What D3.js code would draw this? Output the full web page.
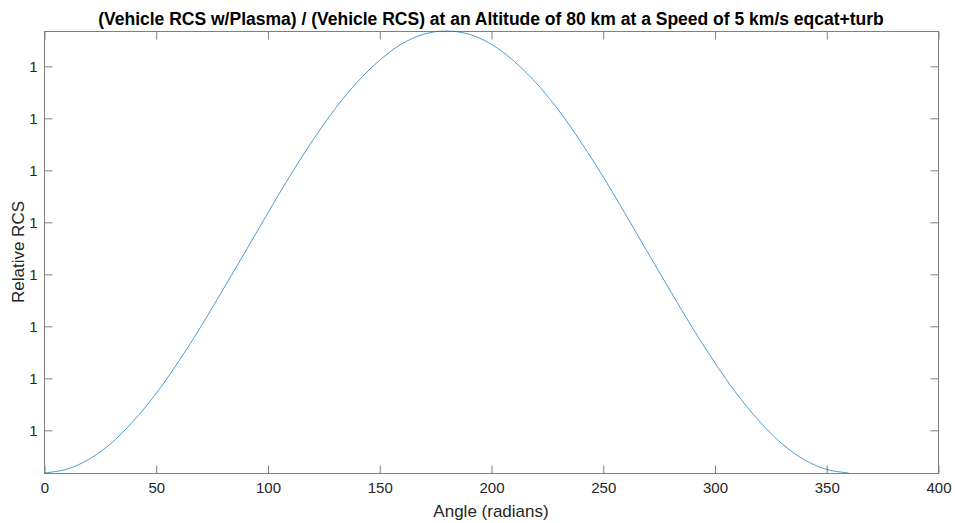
<!DOCTYPE html>
<html>
<head>
<meta charset="utf-8">
<script src="https://cdn.jsdelivr.net/npm/d3@7"></script>
<style>
  html, body { margin: 0; padding: 0; background: #fff; }
  svg { display: block; }
  text { font-family: "Liberation Sans", Arial, Helvetica, sans-serif; }
</style>
</head>
<body>
<svg id="chart" width="955" height="523"></svg>
<script>
// ---- data ----
const titleText = "(Vehicle RCS w/Plasma) / (Vehicle RCS) at an Altitude of 80 km at a Speed of 5 km/s eqcat+turb";
const xLabel = "Angle (radians)";
const yLabel = "Relative RCS";

const angles = [0, 10, 20, 30, 40, 50, 60, 70, 80, 90, 100, 110, 120, 130, 140, 150, 160, 170, 180,
                190, 200, 210, 220, 230, 240, 250, 260, 270, 280, 290, 300, 310, 320, 330, 340, 350, 360];
const relRCS = [0.99999517, 0.99999524, 0.99999543, 0.99999574, 0.99999617, 0.99999669, 0.99999730,
                0.99999797, 0.99999869, 0.99999942, 1.00000016, 1.00000088, 1.00000155, 1.00000216,
                1.00000268, 1.00000310, 1.00000342, 1.00000361, 1.00000367,
                1.00000361, 1.00000342, 1.00000310, 1.00000268, 1.00000216, 1.00000155, 1.00000088,
                1.00000016, 0.99999942, 0.99999869, 0.99999797, 0.99999730, 0.99999669, 0.99999617,
                0.99999574, 0.99999543, 0.99999524, 0.99999517];

const xTicks = [0, 50, 100, 150, 200, 250, 300, 350, 400];
const yTicks = [0.999996, 0.999997, 0.999998, 0.999999, 1.000000, 1.000001, 1.000002, 1.000003];
const yTickLabels = ["1", "1", "1", "1", "1", "1", "1", "1"];

// ---- layout ----
const mLeft = 44, mRight = 938, mTop = 31, mBottom = 473;
const svg = d3.select("#chart");

const x = d3.scaleLinear().domain([0, 400]).range([mLeft, mRight]);
const y = d3.scaleLinear().domain([d3.min(relRCS), d3.max(relRCS)]).range([mBottom, mTop]);

const axisColor = "#808080";
const textColor = "#262626";
const tickLen = 8;

// plot box
svg.append("rect")
  .attr("x", mLeft + 0.5).attr("y", mTop + 0.5)
  .attr("width", mRight - mLeft).attr("height", mBottom - mTop)
  .attr("fill", "#fff").attr("stroke", axisColor).attr("stroke-width", 1);

// axes
const xAxisB = d3.axisBottom(x).tickValues(xTicks).tickSizeInner(-tickLen).tickSizeOuter(0).tickPadding(9);
const xAxisT = d3.axisTop(x).tickValues(xTicks).tickSizeInner(-tickLen).tickSizeOuter(0).tickFormat("");
const yAxisL = d3.axisLeft(y).tickValues(yTicks).tickSizeInner(-tickLen).tickSizeOuter(0).tickPadding(7)
  .tickFormat((d, i) => yTickLabels[i]);
const yAxisR = d3.axisRight(y).tickValues(yTicks).tickSizeInner(-tickLen).tickSizeOuter(0).tickFormat("");

function styleAxis(g) {
  g.select(".domain").remove();
  g.selectAll(".tick line").attr("stroke", axisColor).attr("stroke-width", 1);
  g.selectAll(".tick text").attr("fill", textColor).attr("font-size", 15)
    .attr("font-family", '"Liberation Sans", Arial, Helvetica, sans-serif');
}

svg.append("g").attr("transform", `translate(0.5,${mBottom + 0.5})`).call(xAxisB).call(styleAxis);
svg.append("g").attr("transform", `translate(0.5,${mTop + 0.5})`).call(xAxisT).call(styleAxis);
svg.append("g").attr("transform", `translate(${mLeft + 0.5},0.5)`).call(yAxisL).call(styleAxis);
svg.append("g").attr("transform", `translate(${mRight + 0.5},0.5)`).call(yAxisR).call(styleAxis);

// line
const line = d3.line().x((d, i) => x(angles[i])).y(d => y(d)).curve(d3.curveCatmullRom.alpha(0.5));
svg.append("path")
  .datum(relRCS)
  .attr("d", line)
  .attr("fill", "none")
  .attr("stroke", "#0072BD")
  .attr("stroke-width", 0.7);

// title
svg.append("text")
  .attr("x", (mLeft + mRight) / 2).attr("y", 25)
  .attr("text-anchor", "middle")
  .attr("font-size", 17.5).attr("font-weight", "bold").attr("fill", "#000")
  .text(titleText);

// x label
svg.append("text")
  .attr("x", (mLeft + mRight) / 2).attr("y", 517)
  .attr("text-anchor", "middle")
  .attr("font-size", 17).attr("fill", textColor)
  .text(xLabel);

// y label
svg.append("text")
  .attr("transform", `translate(24,${(mTop + mBottom) / 2}) rotate(-90)`)
  .attr("text-anchor", "middle")
  .attr("font-size", 17).attr("fill", textColor)
  .text(yLabel);
</script>
</body>
</html>
